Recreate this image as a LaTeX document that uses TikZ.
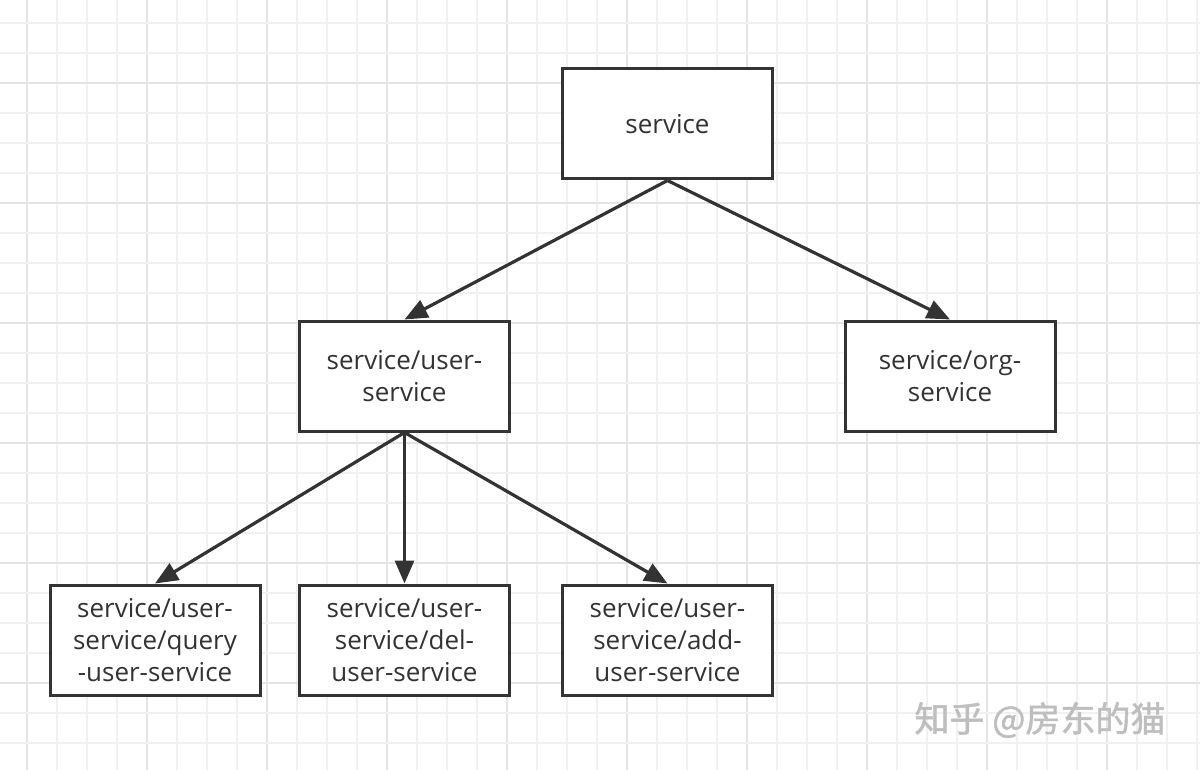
\documentclass[tikz,border=0pt]{standalone}
\usepackage{fontspec}
\setmainfont{Open Sans}
\newfontfamily\cjk[FakeBold=1.5]{Noto Sans CJK SC}
\usetikzlibrary{arrows.meta}
\definecolor{ink}{HTML}{333333}
\definecolor{gridlight}{HTML}{F1F1F1}
\definecolor{griddark}{HTML}{E4E4E4}
\definecolor{mark}{HTML}{BEBEBE}
\tikzset{
  svcbox/.style={draw=ink, line width=3pt, fill=white, minimum width=210pt,
    minimum height=110pt, align=center, text=ink,
    font=\fontsize{26}{32}\selectfont},
  link/.style={draw=ink, line width=3.2pt,
    -{Triangle[length=23pt,width=19pt]}}
}
\begin{document}
\begin{tikzpicture}[x=1pt,y=-1pt]
    \useasboundingbox (0,0) rectangle (1200,770);
    \fill[white] (0,0) rectangle (1200,770);
    % background grid
    \foreach \k in {0,...,39}{
      \pgfmathsetmacro{\gx}{27+30*\k}
      \pgfmathparse{mod(\k,4)==0 ? "griddark" : "gridlight"}
      \draw[\pgfmathresult, line width=2pt] (\gx,0) -- (\gx,770);
    }
    \foreach \k in {0,...,24}{
      \pgfmathsetmacro{\gy}{23+30*\k}
      \pgfmathparse{mod(\k+2,4)==0 ? "griddark" : "gridlight"}
      \draw[\pgfmathresult, line width=2pt] (0,\gy) -- (1200,\gy);
    }
    \node[svcbox] (svc) at (667.5,124) {service};
    \node[svcbox] (user) at (404.5,376) {service/user-\\service};
    \node[svcbox] (org) at (950,376) {service/org-\\service};
    \node[svcbox] (query) at (155,640) {service/user-\\service/query\\-user-service};
    \node[svcbox] (del) at (404.5,640) {service/user-\\service/del-\\user-service};
    \node[svcbox] (add) at (667.5,640) {service/user-\\service/add-\\user-service};
    \draw[link] (svc.south) -- (user.north);
    \draw[link] (svc.south) -- (org.north);
    \draw[link] (user.south) -- (query.north);
    \draw[link] (user.south) -- (del.north);
    \draw[link] (user.south) -- (add.north);
    % watermark
    \node[text=mark, font=\cjk\fontsize{35}{35}\selectfont] (wm) at (1040,720) {知乎 @房东的猫};
\end{tikzpicture}
\end{document}
